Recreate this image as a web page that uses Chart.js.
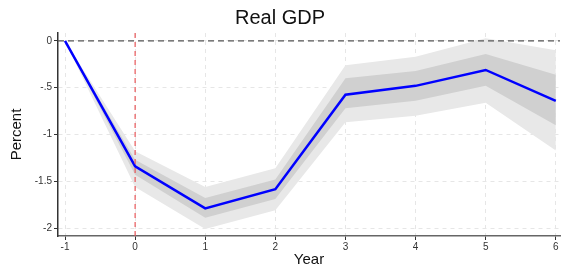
<!DOCTYPE html>
<html>
<head>
<meta charset="utf-8">
<script src="https://cdn.jsdelivr.net/npm/chart.js@4/dist/chart.umd.min.js"></script>
<style>
  html, body { margin: 0; padding: 0; background: #fff; }
  #wrap { width: 561px; height: 269px; }
</style>
</head>
<body>
<div id="wrap"><canvas id="gdpChart"></canvas></div>
<script>
// years after the shock
const years = [-1, 0, 1, 2, 3, 4, 5, 6];
// point estimate (percent)
const estimate = [0, -1.34, -1.79, -1.585, -0.575, -0.48, -0.31, -0.64];
// inner band (68%)
const innerLow  = [0, -1.43, -1.89, -1.69, -0.72, -0.64, -0.48, -0.90];
const innerHigh = [0, -1.27, -1.68, -1.48, -0.40, -0.32, -0.14, -0.36];
// outer band (90%)
const outerLow  = [0, -1.56, -2.01, -1.81, -0.87, -0.80, -0.66, -1.17];
const outerHigh = [0, -1.18, -1.56, -1.36, -0.26, -0.17, 0.03, -0.10];
// axis ticks
const xTicks = [-1, 0, 1, 2, 3, 4, 5, 6];
const yTicks = [0, -0.5, -1, -1.5, -2];
const yTickLabels = ['0', '-.5', '-1', '-1.5', '-2'];

const pts = (arr) => years.map((x, i) => ({ x: x, y: arr[i] }));

// zero line and shock line, placed through the scales
const refLines = {
  id: 'refLines',
  afterDatasetsDraw(chart) {
    const { ctx, chartArea, scales } = chart;
    const y0 = scales.y.getPixelForValue(0);
    const x0 = scales.x.getPixelForValue(0);
    ctx.save();
    ctx.lineWidth = 1.3;
    ctx.strokeStyle = '#555';
    ctx.setLineDash([6, 4]);
    ctx.beginPath();
    ctx.moveTo(chartArea.left, y0);
    ctx.lineTo(chartArea.right, y0);
    ctx.stroke();
    ctx.strokeStyle = '#e8575a';
    ctx.lineWidth = 1.2;
    ctx.setLineDash([5, 4]);
    ctx.beginPath();
    ctx.moveTo(x0, chartArea.top);
    ctx.lineTo(x0, chartArea.bottom);
    ctx.stroke();
    ctx.restore();
  }
};

const band = { pointRadius: 0, borderWidth: 0, tension: 0 };

new Chart(document.getElementById('gdpChart'), {
  type: 'line',
  data: {
    datasets: [
      { ...band, order: 3, data: pts(outerLow), fill: false, backgroundColor: '#e8e8e8' },
      { ...band, order: 3, data: pts(outerHigh), fill: '-1', backgroundColor: '#e8e8e8' },
      { ...band, order: 2, data: pts(innerLow), fill: false, backgroundColor: '#d0d0d0' },
      { ...band, order: 2, data: pts(innerHigh), fill: '-1', backgroundColor: '#d0d0d0' },
      { order: 0, data: pts(estimate), borderColor: '#0000ff', borderWidth: 2.5, pointRadius: 0, fill: false, tension: 0 }
    ]
  },
  options: {
    responsive: true,
    maintainAspectRatio: false,
    animation: false,
    layout: { padding: { left: 0, right: 1, top: 0, bottom: 0 } },
    plugins: {
      legend: { display: false },
      tooltip: { enabled: false },
      title: {
        display: true,
        text: 'Real GDP',
        color: '#111',
        font: { family: 'Liberation Sans', size: 20, weight: 'normal' },
        padding: { top: 6, bottom: 3 }
      }
    },
    scales: {
      x: {
        type: 'linear',
        min: -1.1,
        max: 6.06,
        afterBuildTicks: (s) => { s.ticks = xTicks.map(v => ({ value: v })); },
        afterFit: (s) => { s.height = 33; },
        ticks: { color: '#333', font: { family: 'Liberation Sans', size: 10 }, padding: 1, maxRotation: 0 },
        grid: { color: '#e6e6e6', tickColor: '#333', tickLength: 4, tickWidth: 1 },
        border: { color: '#666', width: 1.5, dash: [4, 4] },
        title: { display: true, text: 'Year', color: '#111', font: { family: 'Liberation Sans', size: 15 }, padding: { top: 0, bottom: 0 } }
      },
      y: {
        type: 'linear',
        min: -2.085,
        max: 0.085,
        afterBuildTicks: (s) => { s.ticks = yTicks.map(v => ({ value: v })); },
        afterFit: (s) => { s.width = 58; },
        ticks: {
          color: '#333',
          font: { family: 'Liberation Sans', size: 10 },
          padding: 2,
          callback: (v) => yTickLabels[yTicks.indexOf(v)]
        },
        grid: { color: '#e6e6e6', tickColor: '#333', tickLength: 4, tickWidth: 1 },
        border: { color: '#333', width: 1.5, dash: [4, 4] },
        title: { display: true, text: 'Percent', color: '#111', font: { family: 'Liberation Sans', size: 15 }, padding: { top: 8, bottom: 0 } }
      }
    }
  },
  plugins: [refLines]
});
</script>
</body>
</html>
